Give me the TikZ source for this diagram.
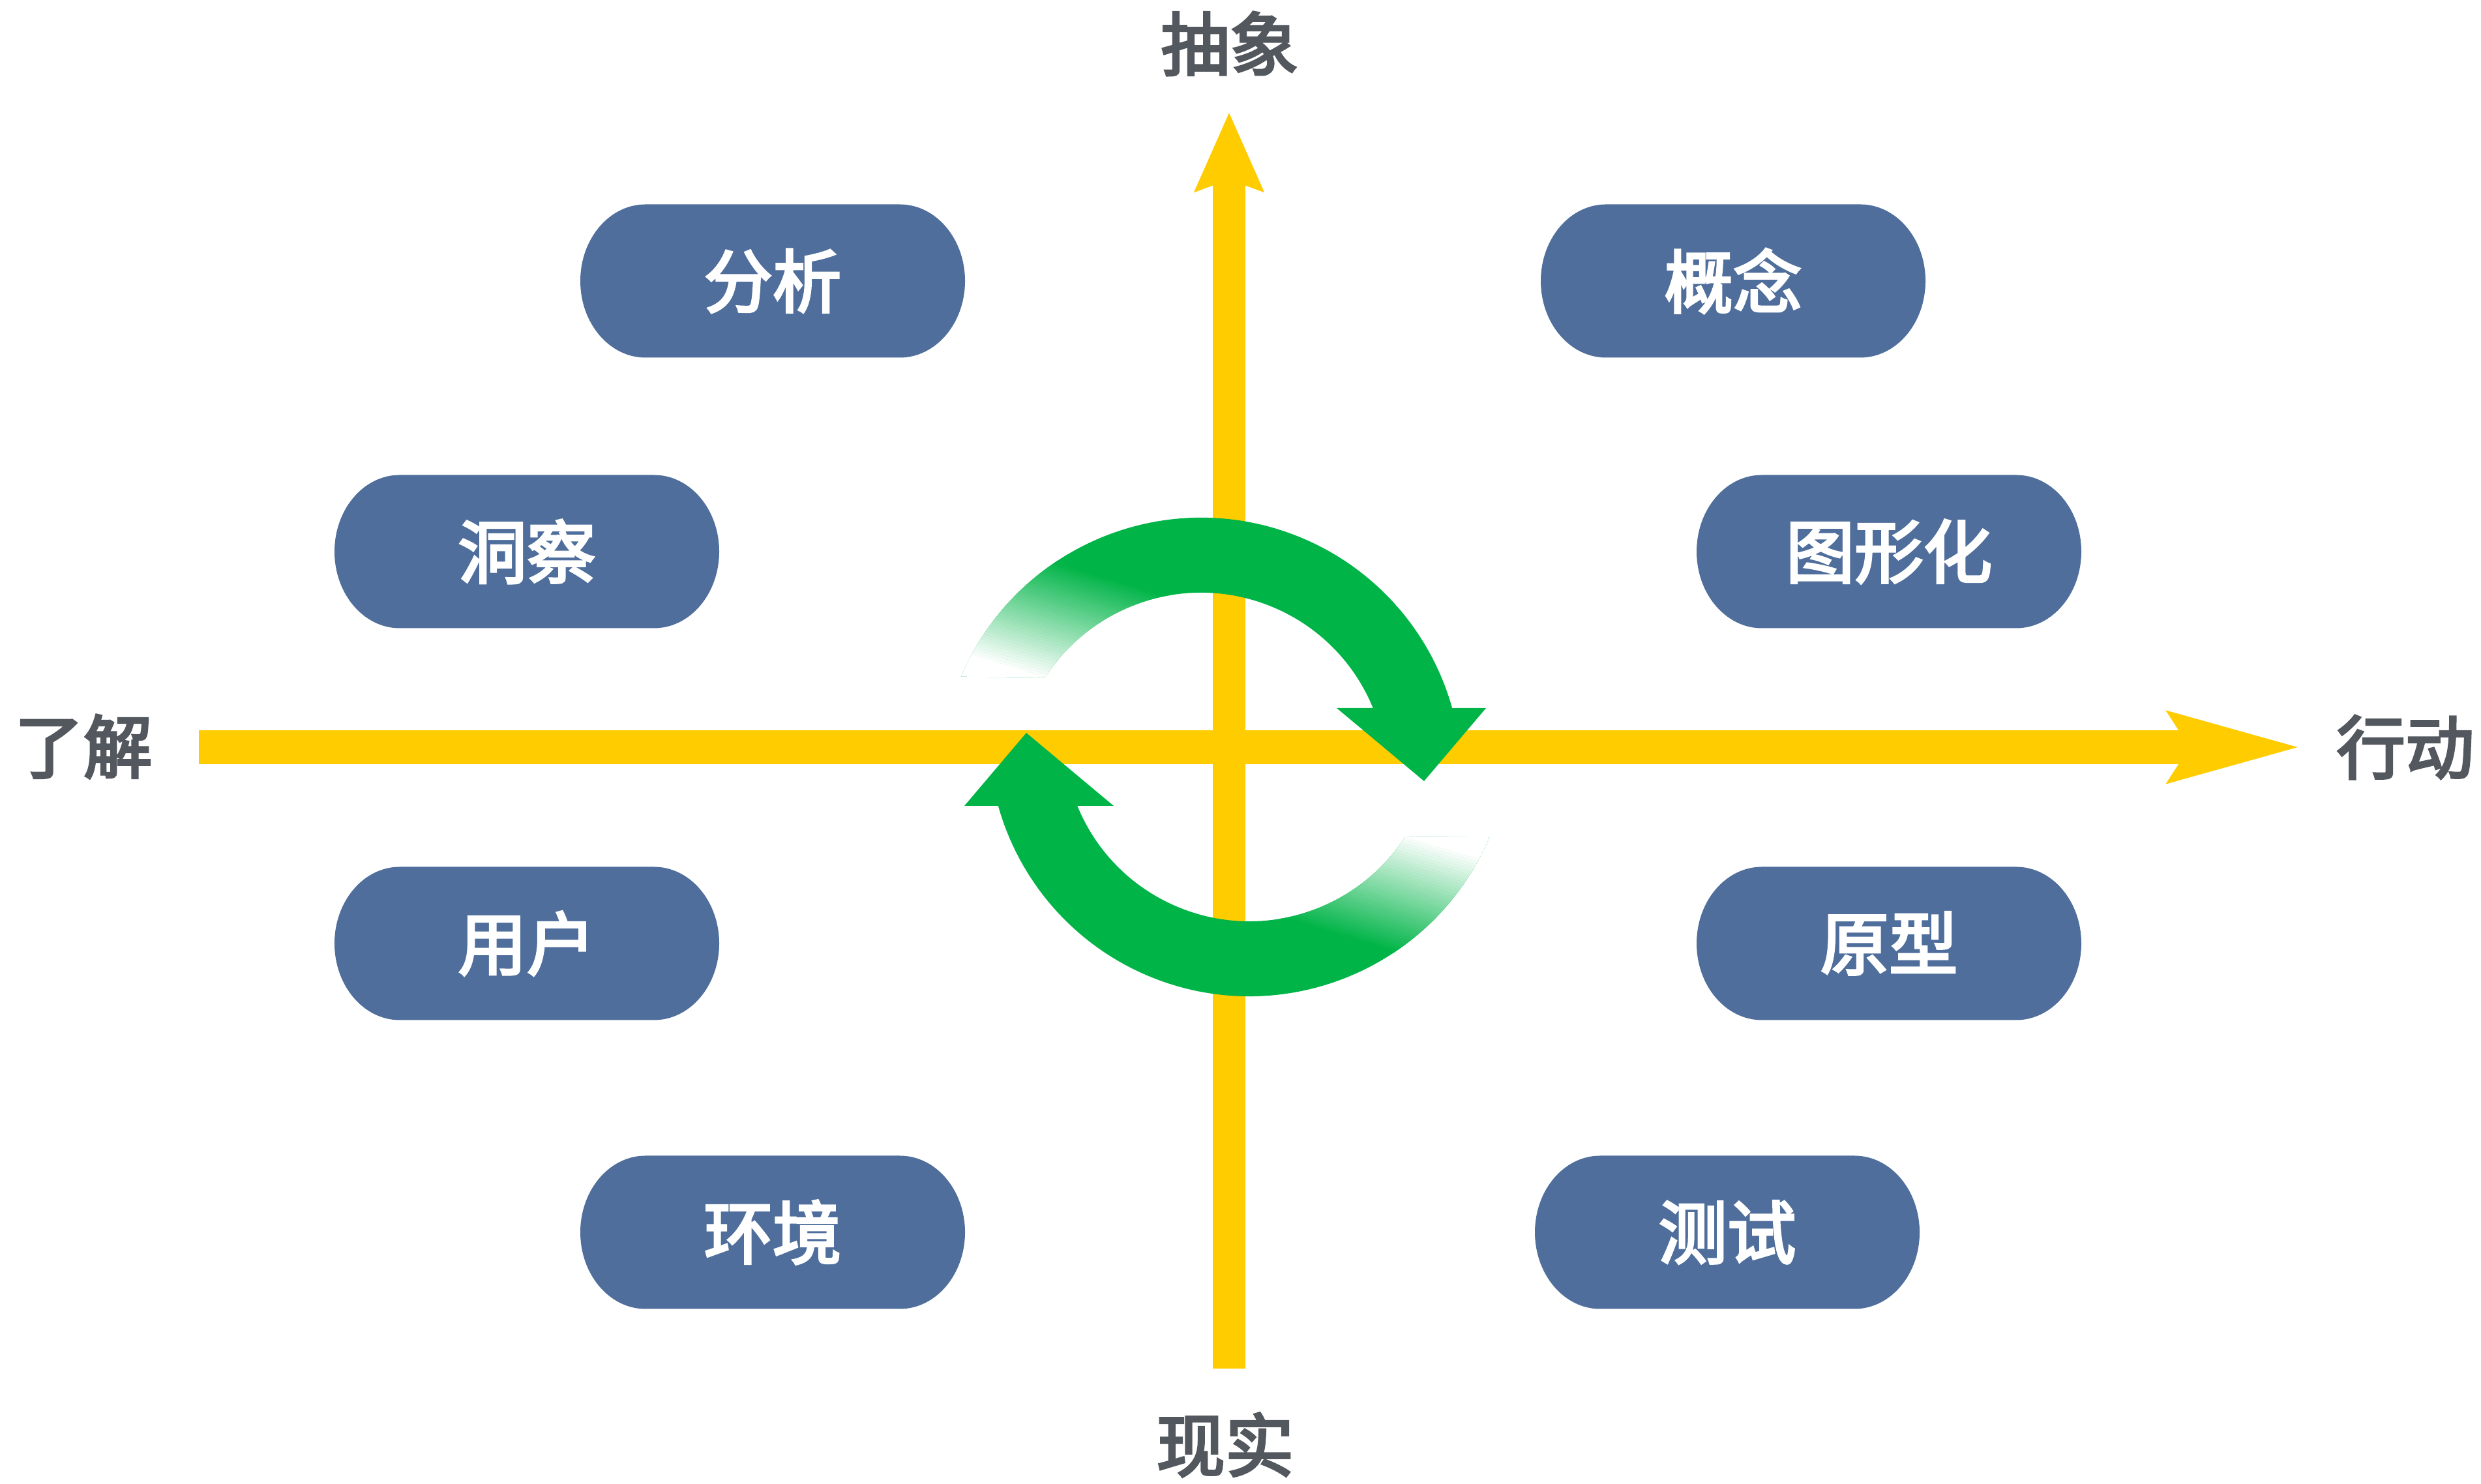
\documentclass[tikz,border=0pt]{standalone}
\usepackage{fontspec}
\newfontfamily\cjk[FakeBold=3.5]{Noto Sans CJK SC}
\usetikzlibrary{arrows.meta}
\definecolor{axisyellow}{HTML}{FFCC00}
\definecolor{pillblue}{HTML}{4F6E9C}
\definecolor{labelgray}{HTML}{53575E}
\definecolor{cyclegreen}{HTML}{00B447}
\tikzset{
  axis/.style={axisyellow,line width=0.52cm},
  axislabel/.style={text=labelgray,font=\cjk\fontsize{30}{36}\selectfont},
  pilltext/.style={text=white,font=\cjk\fontsize{30}{36}\selectfont},
}
\begin{document}
\begin{tikzpicture}
    \useasboundingbox (0,0) rectangle (38.05,22.76);

    % axes and their labels
    \node[axislabel] (chouxiang) at (18.86,22.09) {抽象};
    \node[axislabel] (xianshi) at (18.79,0.60) {现实};
    \node[axislabel] (liaojie) at (1.28,11.31) {了解};
    \node[axislabel] (xingdong) at (36.89,11.30) {行动};
    \coordinate (hs) at (3.05,11.30);
    \coordinate (he) at (35.31,11.30);
    \coordinate (vs) at (18.85,1.77);
    \coordinate (ve) at (18.85,21.04);
    \draw[axis,-{Stealth[length=2cm,width=1.02cm,inset=0.28cm]}] (hs) -- (he);
    \draw[axis,line width=0.5cm,-{Stealth[length=1.2cm,width=1.02cm,inset=0.17cm]}] (vs) -- (ve);

    % the two turning arrows, tails fading out
    \coordinate (cup) at (18.42,10.82);
    \coordinate (clo) at (19.16,11.48);
    \foreach \c/\r in {cup/0,clo/180}{
        \begin{scope}[shift={(\c)},rotate=\r]
            \clip (157:4) arc[start angle=157,end angle=15.66,radius=4] -- (4.37,1.08) -- (3.42,-0.04)
                -- (2.08,1.08) -- (22.27:2.85) arc[start angle=22.27,end angle=147,radius=2.85] -- cycle;
            \fill[cyclegreen] (-5,-5) rectangle (5,5);
            \clip (-5,-5) rectangle (0,5);
            \begin{scope}[rotate=253]
                \foreach \i [evaluate=\i as \p using 100-2.5*\i] in {0,...,40}
                    \fill[cyclegreen!\p!white] ({-2.55+0.044*\i},-6) rectangle ++(0.046,12);
                \fill[white] (-0.75,-6) rectangle (6,6);
            \end{scope}
        \end{scope}
    }

    % the eight steps
    \foreach \n/\x/\y/\t in {fenxi/11.85/18.45/分析,gainian/26.58/18.45/概念,
        dongcha/8.08/14.30/洞察,tuxinghua/28.97/14.30/图形化,
        yonghu/8.08/8.29/用户,yuanxing/28.97/8.29/原型,
        huanjing/11.85/3.86/环境,ceshi/26.49/3.86/测试}{
        \fill[pillblue] ({\x-1.95},{\y+1.175}) -- ({\x+1.95},{\y+1.175})
            arc[start angle=90,end angle=-90,x radius=1,y radius=1.175] -- ({\x-1.95},{\y-1.175})
            arc[start angle=270,end angle=90,x radius=1,y radius=1.175] -- cycle;
        \node[pilltext] (\n) at (\x,\y) {\t};
    }
\end{tikzpicture}
\end{document}
